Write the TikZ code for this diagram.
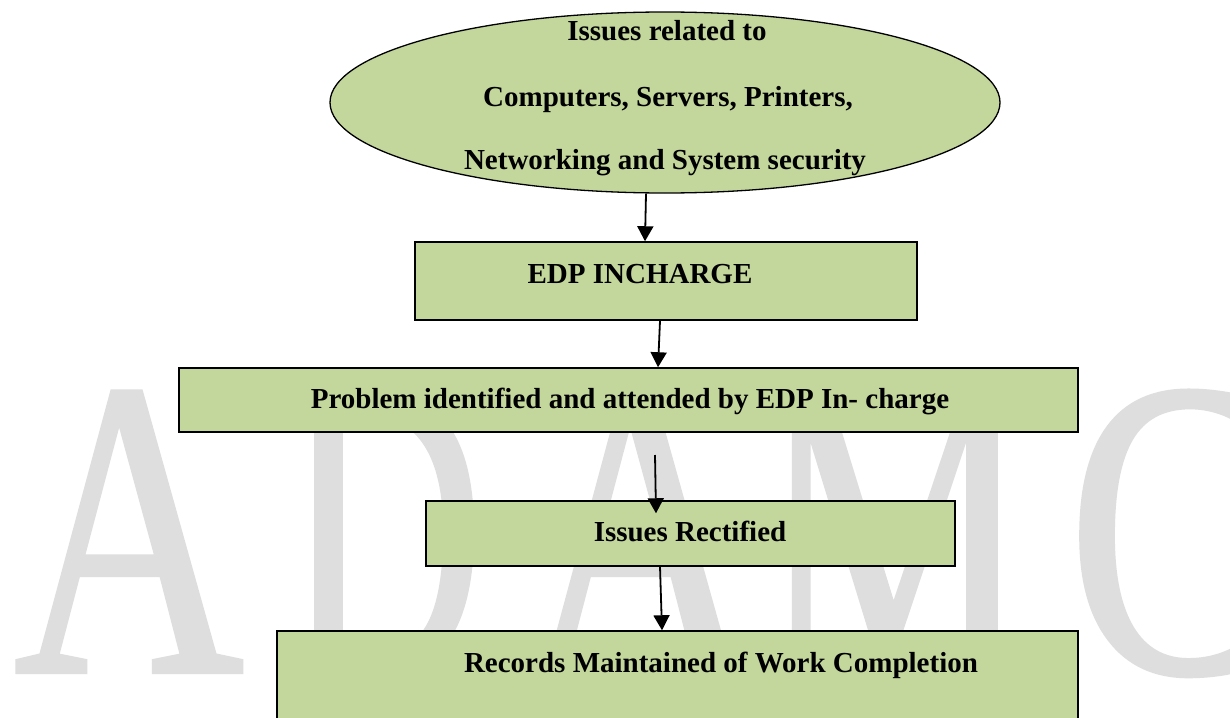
\documentclass[tikz,border=0pt]{standalone}
\usepackage{fontspec}
\setmainfont{Liberation Serif}
\newfontfamily\wmfont{Liberation Serif}[FakeBold=1]
\usetikzlibrary{arrows.meta,shapes.geometric}
\definecolor{boxgreen}{HTML}{C3D69B}
\definecolor{wmgray}{RGB}{222,222,222}
\tikzset{
  boxstyle/.style={draw=black, line width=1.5pt, fill=boxgreen, rectangle, inner sep=0pt},
  ellstyle/.style={draw=black, line width=1.3pt, fill=boxgreen, ellipse, inner sep=0pt},
  lbl/.style={font=\fontsize{29}{35}\selectfont\bfseries, anchor=base, inner sep=0pt},
  conn/.style={line width=1.8pt, -{Triangle[width=16pt,length=15pt]}},
  wm/.style={font=\wmfont\fontsize{425}{425}\selectfont, text=wmgray, anchor=base, inner sep=0pt},
}
\begin{document}
\begin{tikzpicture}[x=1pt,y=-1pt]
\useasboundingbox (0,0) rectangle (1230,717);
\clip (0,0) rectangle (1230,717);
\fill[white] (0,0) rectangle (1230,717);
% watermark
\node[wm] (w1) at (129,672) {\scalebox{0.75}[1]{A}};
\node[wm] (w2) at (384,672) {\scalebox{0.65}[1]{D}};
\node[wm] (w3) at (640,672) {\scalebox{0.75}[1]{A}};
\node[wm] (w4) at (895,672) {\scalebox{0.72}[1]{M}};
\node[wm] (w5) at (1174,672) {\scalebox{0.75}[1]{C}};
% shapes
\node[ellstyle, minimum width=670pt, minimum height=181pt] (ell) at (665,102.5) {};
\node[lbl] (e1) at (667,41) {Issues related to};
\node[lbl] (e2) at (668,106) {Computers, Servers, Printers,};
\node[lbl] (e3) at (665,169) {Networking and System security};

\node[boxstyle, minimum width=502pt, minimum height=78pt] (edp) at (666,281) {};
\node[lbl] (edpt) at (640,283) {EDP INCHARGE};

\node[boxstyle, minimum width=899pt, minimum height=64pt] (prob) at (628.5,400) {};
\node[lbl] (probt) at (630,408) {Problem identified and attended by EDP In- charge};

\node[boxstyle, minimum width=529pt, minimum height=65pt] (rect) at (690.5,533.5) {};
\node[lbl] (rectt) at (690,541) {Issues Rectified};

\node[boxstyle, minimum width=801pt, minimum height=130pt] (rec) at (677.5,696) {};
\node[lbl] (rect2) at (721,672) {Records Maintained of Work Completion};

% connectors
\coordinate (c3) at (655,455);
\draw[conn] ([xshift=-19pt]ell.south) -- ([xshift=-21pt]edp.north);
\draw[conn] ([xshift=-6pt]edp.south) -- ([xshift=29.5pt]prob.north);
\draw[conn] (c3) -- ([xshift=-34.5pt,yshift=-13pt]rect.north);
\draw[conn] ([xshift=-30.5pt]rect.south) -- ([xshift=-15.5pt]rec.north);
\end{tikzpicture}
\end{document}
